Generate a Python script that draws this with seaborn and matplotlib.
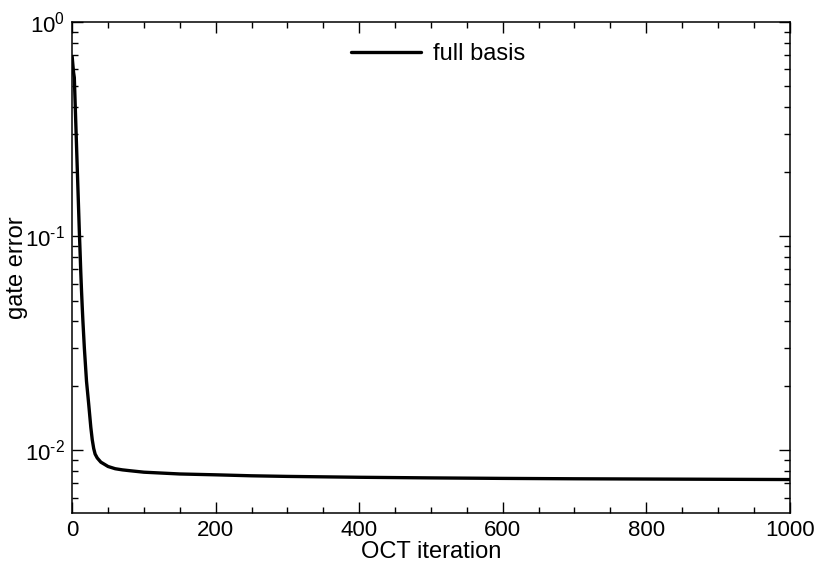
import numpy as np
import pandas as pd
import seaborn as sns
import matplotlib
matplotlib.use('Agg')
import matplotlib.pyplot as plt
from matplotlib.ticker import MultipleLocator, LogLocator, NullFormatter, FuncFormatter

# OCT convergence, values
iterations = [0, 1, 2, 3, 4, 5, 6, 7, 8, 9, 10, 11, 12, 13, 14, 15, 17, 20,
              23, 26, 28, 30, 32, 35, 40, 45, 50, 60, 70, 80, 100, 150, 200,
              250, 300, 400, 500, 600, 700, 800, 900, 1000]
gate_error = [0.69, 0.63, 0.58, 0.55, 0.434, 0.342, 0.270, 0.213, 0.168, 0.133,
              0.105, 0.085, 0.068, 0.056, 0.047, 0.040, 0.030, 0.021,
              0.0165, 0.0128, 0.0112, 0.0102, 0.0096, 0.0092, 0.0088, 0.0086,
              0.0084, 0.0082, 0.0081, 0.00803, 0.0079, 0.00775, 0.00768,
              0.0076, 0.00755, 0.00748, 0.00743, 0.00739, 0.00736, 0.00734,
              0.00732, 0.0073]
series_name = 'full basis'

df = pd.DataFrame({'iteration': iterations, 'error': gate_error, 'label': series_name})

sns.set_style('ticks')
plt.rcParams['font.family'] = ['Liberation Sans', 'DejaVu Sans']
plt.rcParams['mathtext.fontset'] = 'custom'
plt.rcParams['mathtext.rm'] = 'Liberation Sans'
plt.rcParams['mathtext.it'] = 'Liberation Sans'
for key in ['text.color', 'axes.labelcolor', 'xtick.color', 'ytick.color', 'axes.edgecolor']:
    plt.rcParams[key] = 'black'

fig, ax = plt.subplots(figsize=(8.2, 5.63), dpi=100)
fig.subplots_adjust(left=0.088, right=0.963, top=0.961, bottom=0.089)

sns.lineplot(data=df, x='iteration', y='error', hue='label', palette=['black'],
             linewidth=2.4, ax=ax)

ax.set_yscale('log')
ax.set_xlim(0, 1000)
ax.set_ylim(0.0051, 1.0)
ax.xaxis.set_major_locator(MultipleLocator(200))
ax.xaxis.set_minor_locator(MultipleLocator(50))
ax.yaxis.set_major_locator(LogLocator(base=10))
ax.yaxis.set_minor_locator(LogLocator(base=10, subs=np.arange(2, 10)))
ax.yaxis.set_minor_formatter(NullFormatter())
# 10^n labels with a plain hyphen like the original
ax.yaxis.set_major_formatter(FuncFormatter(
    lambda v, p: r'$10^{\text{%d}}$' % int(round(np.log10(v)))))

ax.tick_params(which='both', direction='in', top=True, right=True, width=1, color='black')
ax.tick_params(which='major', length=8, labelsize=16, pad=5)
ax.tick_params(which='minor', length=4)
for s in ax.spines.values():
    s.set_linewidth(1.1)
    s.set_color('black')
    s.set_visible(True)

ax.set_xlabel('OCT iteration', fontsize=17)
ax.set_ylabel('gate error', fontsize=17)
ax.xaxis.set_label_coords(0.5, -0.057)
ax.yaxis.set_label_coords(-0.062, 0.5)

ax.legend(loc='upper center', bbox_to_anchor=(0.51, 1.0), frameon=False, fontsize=17,
          handlelength=3.0, handletextpad=0.5, title=None)

fig.savefig('out.png', dpi=100)
